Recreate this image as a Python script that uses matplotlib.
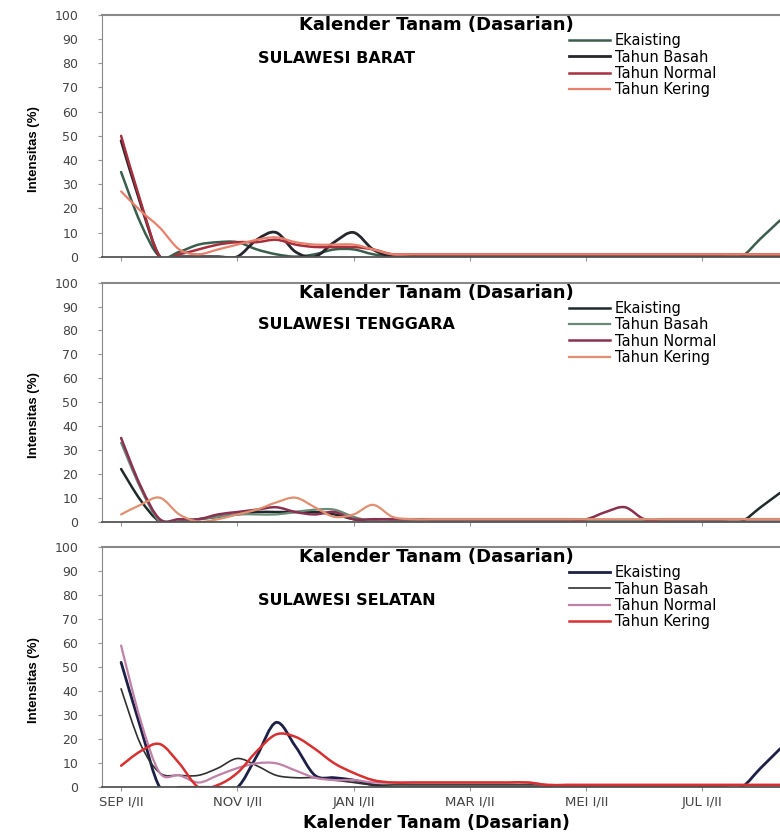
import matplotlib.pyplot as plt
import numpy as np
from matplotlib.path import Path
from matplotlib.patches import PathPatch
from matplotlib.lines import Line2D

series_names = ["Ekaisting", "Tahun Basah", "Tahun Normal", "Tahun Kering"]
tick_labels = ["SEP I/II", "NOV I/II", "JAN I/II", "MAR I/II", "MEI I/II", "JUL I/II"]
tick_pos = [0, 6, 12, 18, 24, 30]
regions = ["SULAWESI BARAT", "SULAWESI TENGGARA", "SULAWESI SELATAN"]

# dasarian index 0 = SEP I ... 34 = AUG I
barat_eks = [35, 14, 0, 2, 5, 6, 6, 3, 1, 0, 1, 3, 3, 1, 0] + [0] * 17 + [0, 7.5, 15]
barat_bsh = [48, 22, 0, 0, 0, 0, 0, 7, 10, 2, 0, 6, 10, 3, 0] + [0] * 20
barat_nor = [50, 23, 0, 1, 3, 5, 6, 6, 7, 5, 4, 4, 4, 3, 1] + [1] * 20
barat_ker = [27, 19, 12, 3, 1, 3, 5, 7, 8, 6, 5, 5, 5, 3, 1] + [1] * 20

tenggara_eks = [22, 9, 0, 0, 1, 2, 3, 4, 4, 4, 4, 3, 1, 0] + [0] * 18 + [0, 6, 12]
tenggara_bsh = [33, 14, 0, 0, 1, 2, 3, 3, 3, 4, 5, 5, 2, 0] + [0] * 21
tenggara_nor = [35, 15, 1, 1, 1, 3, 4, 5, 6, 4, 3, 4, 1, 1] + [1] * 11 + [4, 6, 1] + [1] * 7
tenggara_ker = [3, 7, 10, 3, 0, 1, 3, 5, 8, 10, 6, 2, 3, 7, 2] + [1] * 20

selatan_eks = [52, 25, 0, 0, 0, 0, 0, 13, 27, 17, 5, 4, 3, 1, 0] + [0] * 17 + [0, 8, 16]
selatan_bsh = [41, 18, 6, 5, 5, 8, 12, 9, 5, 4, 4, 3, 2, 1, 1] + [1] * 20
selatan_nor = [59, 28, 6, 5, 2, 5, 8, 10, 10, 7, 4, 3, 3, 2, 2] + [2] * 7 + [1] * 13
selatan_ker = [9, 15, 18, 10, 0, 1, 6, 15, 22, 21, 16, 10, 6, 3, 2] + [2] * 7 + [1] * 13

panels = [
    [barat_eks, barat_bsh, barat_nor, barat_ker],
    [tenggara_eks, tenggara_bsh, tenggara_nor, tenggara_ker],
    [selatan_eks, selatan_bsh, selatan_nor, selatan_ker],
]
colors = [
    ["#3b5e4c", "#26262e", "#a8303e", "#e8806a"],
    ["#1e2a2a", "#6a8a78", "#8a3050", "#e09070"],
    ["#1c2046", "#303030", "#c080a8", "#d83030"],
]
widths = [
    [1.8, 2.0, 1.8, 1.6],
    [1.8, 1.6, 1.8, 1.6],
    [2.0, 1.2, 1.6, 1.8],
]


def smooth_path(x, y):
    # excel-like smoothed line, each segment as a cubic bezier
    pts = np.column_stack([x, y]).astype(float)
    n = len(pts)
    verts = [pts[0]]
    codes = [Path.MOVETO]
    for i in range(n - 1):
        p0 = pts[i - 1] if i > 0 else pts[i]
        p1 = pts[i]
        p2 = pts[i + 1]
        p3 = pts[i + 2] if i + 2 < n else pts[i + 1]
        verts += [p1 + (p2 - p0) / 6, p2 - (p3 - p1) / 6, p2]
        codes += [Path.CURVE4] * 3
    return Path(verts, codes)


fig = plt.figure(figsize=(7.8, 8.32), dpi=100)
boxes = [
    [0.1304, 0.6915, 0.8696, 0.2905],
    [0.1304, 0.3731, 0.8696, 0.2871],
    [0.1304, 0.0537, 0.8696, 0.2888],
]
region_y = [0.821, 0.823, 0.779]

for k in range(3):
    ax = fig.add_axes(boxes[k])
    handles = []
    for s in range(4):
        vals = panels[k][s]
        x = np.arange(len(vals))
        ax.add_patch(PathPatch(smooth_path(x, vals), facecolor="none",
                               edgecolor=colors[k][s], lw=widths[k][s],
                               joinstyle="round", capstyle="round"))
        handles.append(Line2D([], [], color=colors[k][s], lw=widths[k][s]))

    ax.set_xlim(-1, 34)
    ax.set_ylim(0, 100)
    ax.set_yticks(np.arange(0, 101, 10))
    ax.set_xticks(tick_pos)
    if k == 2:
        ax.set_xticklabels(tick_labels, fontsize=9.5, color="#444444")
        ax.set_xlabel("Kalender Tanam (Dasarian)", fontsize=12.5, fontweight="bold")
        ax.xaxis.set_label_coords(0.493, -0.11)
    else:
        ax.set_xticklabels([])
    ax.tick_params(axis="y", labelsize=9, labelcolor="#444444", length=3,
                   color="#999999", pad=14)
    ax.tick_params(axis="x", length=3, color="#999999", pad=3)

    ax.spines["right"].set_visible(False)
    ax.spines["top"].set_color("#888888")
    ax.spines["top"].set_linewidth(1.5)
    ax.spines["left"].set_color("#888888")
    ax.spines["bottom"].set_color("#555555")
    ax.spines["bottom"].set_linewidth(1.3)

    ax.set_ylabel("Intensitas (%)", fontsize=9.5, fontweight="bold",
                  family=["Liberation Sans", "DejaVu Sans"])
    ax.yaxis.set_label_coords(-0.091, 0.446)

    ax.text(0.493, 0.957, "Kalender Tanam (Dasarian)", transform=ax.transAxes,
            ha="center", va="center", fontsize=13, fontweight="bold")
    ax.text(0.2304, region_y[k], regions[k], transform=ax.transAxes,
            ha="left", va="center", fontsize=11.5, fontweight="bold")

    ax.legend(handles, series_names, loc="upper left", bbox_to_anchor=(0.689, 0.925),
              frameon=False, fontsize=10.5, handlelength=2.8, handletextpad=0.35,
              labelspacing=0.1, borderpad=0, borderaxespad=0)

fig.savefig("out.png", dpi=100)
